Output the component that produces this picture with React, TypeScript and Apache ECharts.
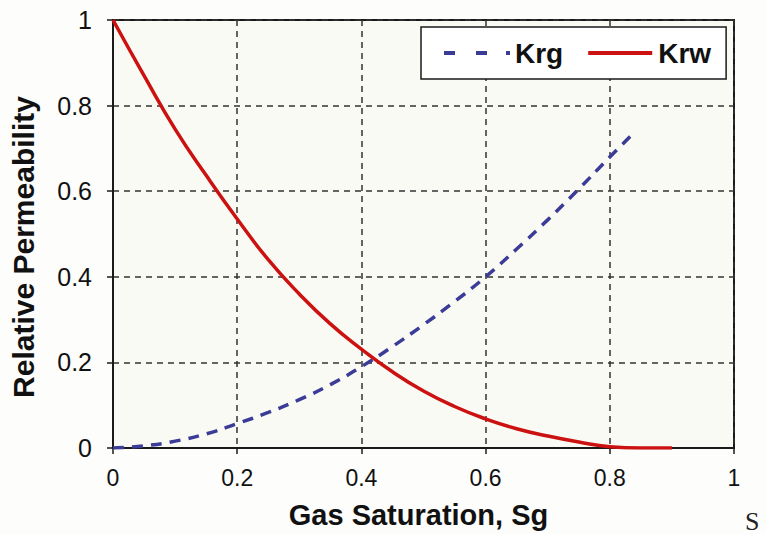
import React, { useEffect, useRef } from "react";
import * as echarts from "echarts";

// Gas saturation sample points for each curve
const SG_KRW = [0, 0.05, 0.1, 0.15, 0.2, 0.25, 0.3, 0.35, 0.4, 0.45, 0.5, 0.55, 0.6, 0.65, 0.7, 0.75, 0.8, 0.85, 0.9];
const KRW = [1, 0.87, 0.745, 0.637, 0.535, 0.44, 0.36, 0.29, 0.231, 0.178, 0.133, 0.097, 0.068, 0.045, 0.028, 0.014, 0.003, 0, 0];

const SG_KRG = [0, 0.05, 0.1, 0.15, 0.2, 0.25, 0.3, 0.35, 0.4, 0.45, 0.5, 0.55, 0.6, 0.65, 0.7, 0.75, 0.8, 0.84];
const KRG = [0, 0.005, 0.016, 0.033, 0.057, 0.083, 0.113, 0.148, 0.19, 0.237, 0.288, 0.342, 0.4, 0.465, 0.533, 0.605, 0.68, 0.738];

const X_TICKS = [0, 0.2, 0.4, 0.6, 0.8, 1];
const Y_TICKS = [0, 0.2, 0.4, 0.6, 0.8, 1];

const FONT = 'Arial, "Liberation Sans", Helvetica, sans-serif';

// Legend swatches: a dashed stroke for Krg and a solid one for Krw
const ICON_DASHED = "path://M0,0h11v4h-11zM32,0h11v4h-11zM62,0h4v4h-4z";
const ICON_SOLID = "path://M0,0h64v4h-64z";

export default function App() {
  const ref = useRef<HTMLDivElement>(null);

  useEffect(() => {
    if (!ref.current) return;
    const chart = echarts.init(ref.current, null, { renderer: "svg" });

    const pairs = (xs: number[], ys: number[]) => xs.map((x, i) => [x, ys[i]]);

    chart.setOption({
      animation: false,
      backgroundColor: "#fdfdfc",
      grid: {
        left: 113,
        right: 32,
        top: 20,
        bottom: 84,
        show: true,
        backgroundColor: "#fafaf4",
        borderColor: "#1a1a1a",
        borderWidth: 2,
      },
      legend: {
        left: 421,
        top: 27,
        padding: [12, 15, 12, 23],
        itemGap: 25,
        itemWidth: 66,
        itemHeight: 4,
        backgroundColor: "#ffffff",
        borderColor: "#1a1a1a",
        borderWidth: 1.5,
        data: [
          { name: "Krg", icon: ICON_DASHED },
          { name: "Krw", icon: ICON_SOLID },
        ],
        textStyle: { fontFamily: FONT, fontSize: 28, fontWeight: "bold", color: "#111", lineHeight: 28 },
      },
      xAxis: {
        type: "value",
        min: X_TICKS[0],
        max: X_TICKS[X_TICKS.length - 1],
        interval: X_TICKS[1] - X_TICKS[0],
        name: "Gas Saturation, Sg",
        nameLocation: "middle",
        nameGap: 52,
        nameTextStyle: {
          fontFamily: FONT,
          fontSize: 29,
          fontWeight: "bold",
          color: "#111",
          padding: [0, 10, 0, 0],
        },
        axisLine: { lineStyle: { color: "#1a1a1a", width: 2 } },
        axisTick: { show: true, length: 6, lineStyle: { color: "#1a1a1a", width: 1.5 } },
        axisLabel: { fontFamily: FONT, fontSize: 23, color: "#111", margin: 18 },
        splitLine: { show: true, lineStyle: { color: "#333", width: 1.5, type: [6, 5] } },
      },
      yAxis: {
        type: "value",
        min: Y_TICKS[0],
        max: Y_TICKS[Y_TICKS.length - 1],
        interval: Y_TICKS[1] - Y_TICKS[0],
        name: "Relative Permeability",
        nameLocation: "middle",
        nameGap: 75,
        nameTextStyle: {
          fontFamily: FONT,
          fontSize: 30,
          fontWeight: "bold",
          color: "#111",
          padding: [0, 26, 0, 0],
        },
        axisLine: { show: true, lineStyle: { color: "#1a1a1a", width: 2 } },
        axisTick: { show: true, length: 6, lineStyle: { color: "#1a1a1a", width: 1.5 } },
        axisLabel: { fontFamily: FONT, fontSize: 25, color: "#111", margin: 21 },
        splitLine: { show: true, lineStyle: { color: "#333", width: 1.5, type: [6, 5] } },
      },
      graphic: [
        {
          type: "text",
          left: 745,
          top: 508,
          style: { text: "S", fontFamily: '"Liberation Serif", "DejaVu Serif", serif', fontSize: 26, fill: "#222" },
        },
      ],
      series: [
        {
          name: "Krg",
          type: "line",
          data: pairs(SG_KRG, KRG),
          smooth: true,
          symbol: "none",
          lineStyle: { color: "#3b3b98", width: 3.5, type: [11, 8] },
          itemStyle: { color: "#3b3b98" },
          z: 3,
        },
        {
          name: "Krw",
          type: "line",
          data: pairs(SG_KRW, KRW),
          smooth: true,
          symbol: "none",
          lineStyle: { color: "#cc1111", width: 3.5 },
          itemStyle: { color: "#cc1111" },
          z: 4,
        },
      ],
    });

    return () => chart.dispose();
  }, []);

  return (
    <div
      ref={ref}
      style={{ position: "absolute", left: 0, top: 0, width: 766, height: 534 }}
    />
  );
}
